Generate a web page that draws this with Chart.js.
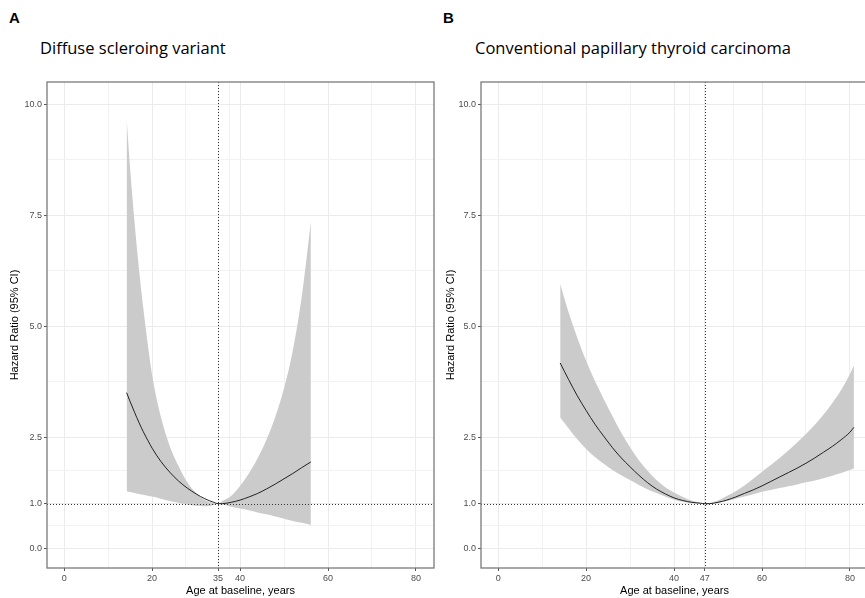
<!DOCTYPE html>
<html>
<head>
<meta charset="utf-8">
<script src="https://cdn.jsdelivr.net/npm/chart.js@4.4.1/dist/chart.umd.min.js"></script>
<style>
  body { margin:0; width:865px; height:598px; overflow:hidden; background:#fff; position:relative; }
  .lbl { position:absolute; font-family:"Liberation Sans", Arial, sans-serif; font-weight:bold; font-size:15px; color:#000; }
  .ttl { position:absolute; font-family:"Open Sans", sans-serif; font-size:16.5px; color:#000; white-space:nowrap; }
  canvas { position:absolute; }
</style>
</head>
<body>
<div class="lbl" style="left:9px;top:9px">A</div>
<div class="ttl" style="left:40px;top:36px">Diffuse scleroing variant</div>
<div class="lbl" style="left:443px;top:9px">B</div>
<div class="ttl" style="left:475px;top:36px">Conventional papillary thyroid carcinoma</div>
<canvas id="chartA" width="440" height="528" style="left:0;top:70px"></canvas>
<canvas id="chartB" width="430" height="528" style="left:440px;top:70px"></canvas>
<script>
// panel A - diffuse sclerosing variant
const ageA   = [14.2, 15, 16, 17, 18, 19, 20, 22, 24, 26, 28, 30, 32, 34, 35, 36, 38, 40, 42, 44, 46, 48, 50, 52, 54, 56.1];
const hrA    = [3.50, 3.30, 3.06, 2.83, 2.62, 2.43, 2.25, 1.95, 1.71, 1.51, 1.35, 1.22, 1.11, 1.03, 1.00, 1.00, 1.03, 1.08, 1.15, 1.23, 1.33, 1.44, 1.56, 1.68, 1.81, 1.94];
const upperA = [9.68, 8.55, 7.35, 6.30, 5.40, 4.60, 3.90, 2.95, 2.30, 1.85, 1.48, 1.24, 1.08, 1.01, 1.00, 1.06, 1.18, 1.40, 1.68, 2.02, 2.44, 2.95, 3.60, 4.45, 5.65, 7.35];
const lowerA = [1.28, 1.26, 1.24, 1.22, 1.20, 1.18, 1.16, 1.11, 1.06, 1.02, 0.98, 0.95, 0.94, 0.97, 1.00, 0.98, 0.93, 0.89, 0.85, 0.80, 0.76, 0.71, 0.66, 0.61, 0.57, 0.52];

// panel B - conventional PTC
const ageB   = [14.1, 16, 18, 20, 22, 24, 26, 28, 30, 32, 34, 36, 38, 40, 42, 44, 46, 47, 48, 50, 52, 54, 56, 58, 60, 62, 64, 66, 68, 70, 72, 74, 76, 78, 80, 80.9];
const hrB    = [4.17, 3.80, 3.43, 3.10, 2.79, 2.52, 2.26, 2.03, 1.83, 1.64, 1.47, 1.33, 1.22, 1.13, 1.07, 1.03, 1.01, 1.00, 1.00, 1.03, 1.08, 1.15, 1.23, 1.31, 1.40, 1.50, 1.60, 1.70, 1.80, 1.91, 2.03, 2.16, 2.29, 2.44, 2.61, 2.72];
const upperB = [5.95, 5.32, 4.74, 4.22, 3.77, 3.36, 2.97, 2.60, 2.27, 1.98, 1.74, 1.53, 1.37, 1.25, 1.15, 1.07, 1.02, 1.00, 1.01, 1.07, 1.17, 1.28, 1.41, 1.56, 1.72, 1.87, 2.03, 2.20, 2.38, 2.57, 2.78, 3.01, 3.27, 3.56, 3.92, 4.12];
const lowerB = [2.94, 2.70, 2.45, 2.23, 2.05, 1.90, 1.76, 1.64, 1.53, 1.42, 1.32, 1.24, 1.16, 1.09, 1.04, 1.01, 1.00, 1.00, 1.00, 1.02, 1.06, 1.11, 1.16, 1.21, 1.27, 1.31, 1.35, 1.39, 1.43, 1.48, 1.52, 1.57, 1.63, 1.69, 1.76, 1.79];

const xTicksA = [0, 20, 35, 40, 60, 80];
const xTicksB = [0, 20, 40, 47, 60, 80];
const yTicks  = [0, 1, 2.5, 5, 7.5, 10];
const refAgeA = 35;
const refAgeB = 47;
const refHR = 1;

const FONT = '"Liberation Sans", Arial, sans-serif';

// ggplot-style minor breaks halfway between the majors
function withMinor(major) {
  let out = [];
  for (let i = 0; i < major.length; i++) {
    out.push(major[i]);
    if (i < major.length - 1) out.push((major[i] + major[i + 1]) / 2);
  }
  return out;
}

const pts = (xs, ys) => xs.map((x, i) => ({x: x, y: ys[i]}));

const refPlugin = {
  id: 'refs',
  afterDatasetsDraw(chart, args, opts) {
    const {ctx, chartArea: a, scales: {x, y}} = chart;
    ctx.save();
    ctx.strokeStyle = '#333';
    ctx.lineWidth = 1;
    ctx.setLineDash([1, 2]);
    const px = Math.round(x.getPixelForValue(opts.refAge)) + 0.5;
    const py = Math.round(y.getPixelForValue(refHR)) + 0.5;
    ctx.beginPath();
    ctx.moveTo(px, a.top); ctx.lineTo(px, a.bottom);
    ctx.moveTo(a.left, py); ctx.lineTo(a.right, py);
    ctx.stroke();
    ctx.setLineDash([]);
    ctx.strokeStyle = '#7a7a7a';
    ctx.lineWidth = 1.3;
    ctx.strokeRect(a.left, a.top, a.right - a.left, a.bottom - a.top);
    ctx.restore();
  }
};

function makeChart(id, ages, hr, up, lo, xTicks, refAge, yW, yTitlePad, rightPad) {
  const xAll = withMinor(xTicks), yAll = withMinor(yTicks);
  return new Chart(document.getElementById(id), {
    type: 'line',
    data: {
      datasets: [
        { data: pts(ages, hr), borderColor: '#222', borderWidth: 1, fill: false },
        { data: pts(ages, up), borderWidth: 0, borderColor: 'rgba(0,0,0,0)', backgroundColor: '#cbcbcb', fill: '+1' },
        { data: pts(ages, lo), borderWidth: 0, borderColor: 'rgba(0,0,0,0)', fill: false }
      ]
    },
    options: {
      responsive: false,
      animation: false,
      layout: { padding: { top: 12, right: rightPad, left: 0, bottom: 0 } },
      elements: { point: { radius: 0 }, line: { cubicInterpolationMode: 'monotone' } },
      plugins: { legend: { display: false }, tooltip: { enabled: false }, refs: { refAge: refAge } },
      scales: {
        x: {
          type: 'linear', min: -3.9, max: 84.1,
          afterBuildTicks: s => { s.ticks = xAll.map(v => ({value: v})); },
          afterFit: s => { s.height = 30; },
          border: { display: false },
          grid: {
            color: ctx => xTicks.includes(ctx.tick.value) ? '#ebebeb' : '#f2f2f2',
            tickLength: 3,
            tickColor: ctx => xTicks.includes(ctx.tick.value) ? '#555' : 'rgba(0,0,0,0)'
          },
          ticks: {
            autoSkip: false, maxRotation: 0, padding: 2,
            font: { size: 9, family: FONT }, color: '#4d4d4d',
            callback: v => xTicks.includes(v) ? String(v) : ''
          },
          title: { display: true, text: 'Age at baseline, years', color: '#000',
                   font: { size: 11, family: FONT }, padding: { top: 0, bottom: 0 } }
        },
        y: {
          type: 'linear', min: -0.45, max: 10.5,
          afterBuildTicks: s => { s.ticks = yAll.map(v => ({value: v})); },
          afterFit: s => { s.width = yW; },
          border: { display: false },
          grid: {
            color: ctx => yTicks.includes(ctx.tick.value) ? '#ebebeb' : '#f2f2f2',
            tickLength: 3,
            tickColor: ctx => yTicks.includes(ctx.tick.value) ? '#555' : 'rgba(0,0,0,0)'
          },
          ticks: {
            autoSkip: false, padding: 2,
            font: { size: 9, family: FONT }, color: '#4d4d4d',
            callback: v => yTicks.includes(v) ? v.toFixed(1) : ''
          },
          title: { display: true, text: 'Hazard Ratio (95% CI)', color: '#000',
                   font: { size: 11, family: FONT }, padding: { top: yTitlePad, bottom: 0 } }
        }
      }
    },
    plugins: [refPlugin]
  });
}

makeChart('chartA', ageA, hrA, upperA, lowerA, xTicksA, refAgeA, 47, 8, 6);
makeChart('chartB', ageB, hrB, upperB, lowerB, xTicksB, refAgeB, 41, 4, 2);
</script>
</body>
</html>
